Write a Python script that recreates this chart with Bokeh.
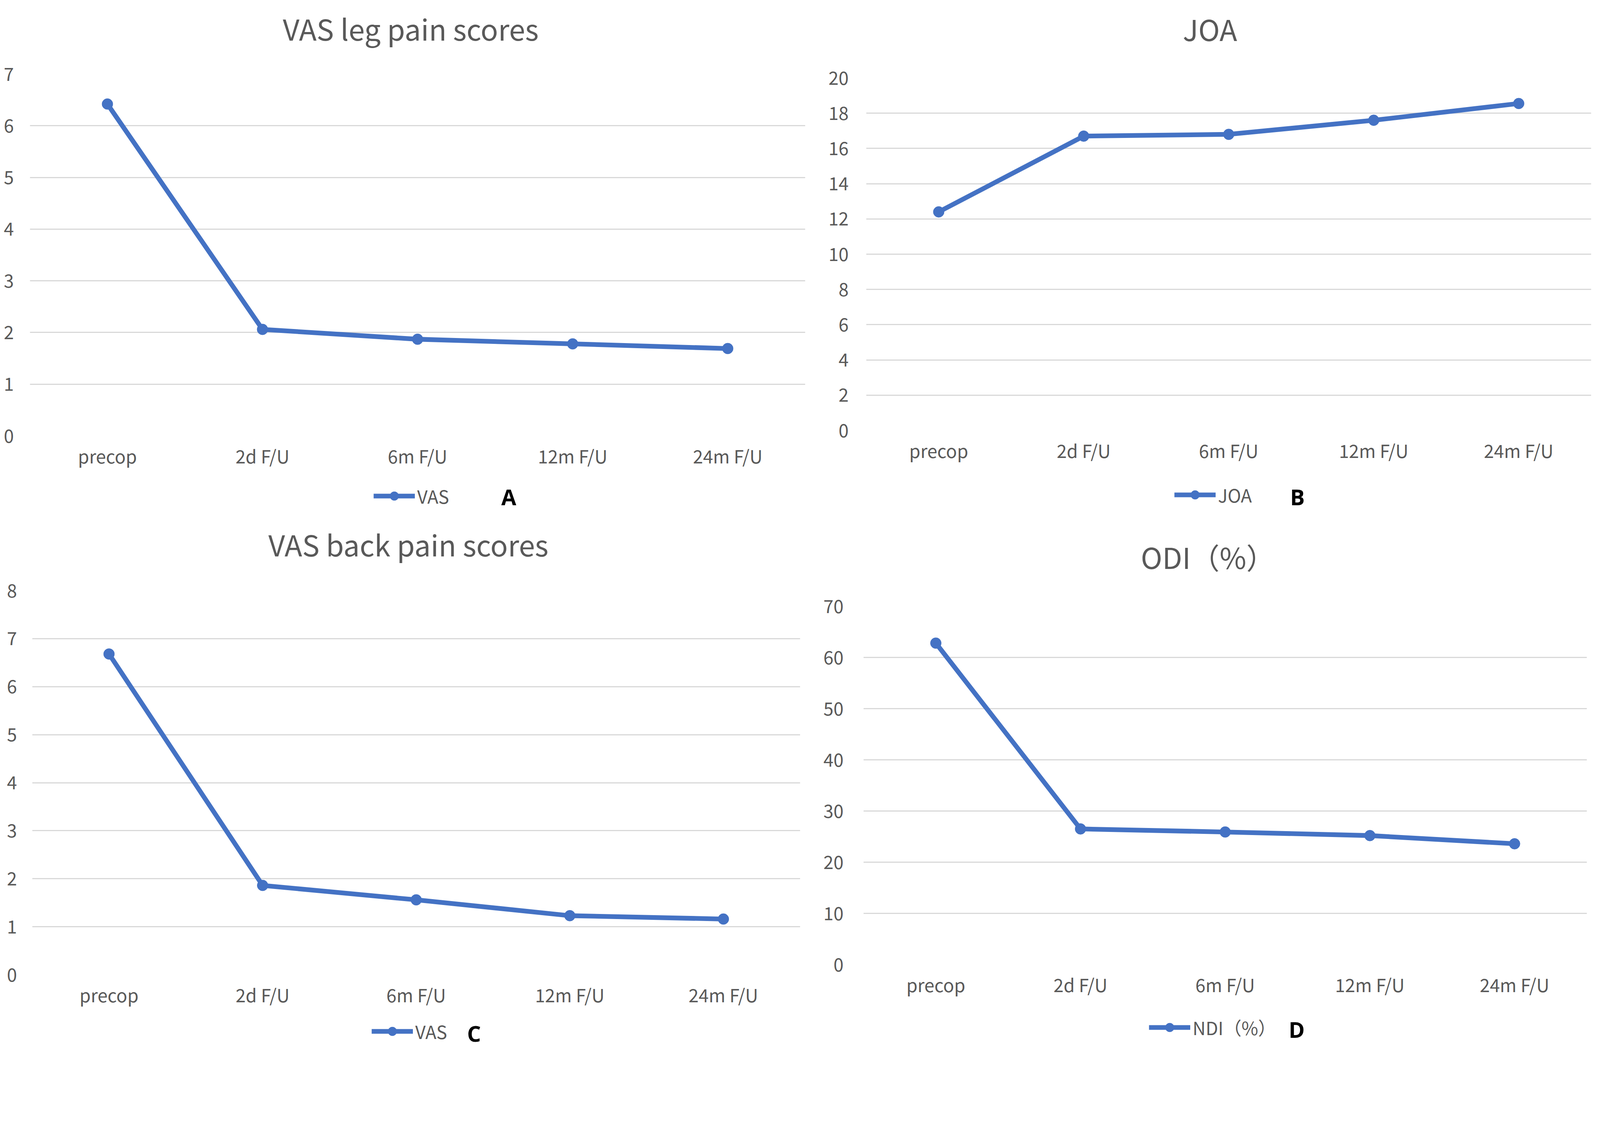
from bokeh.plotting import figure
from bokeh.models import FixedTicker, Legend, LegendItem, Label, Range1d
from bokeh.layouts import row, column
from bokeh.embed import file_html
from bokeh.resources import INLINE

categories = ["precop", "2d F/U", "6m F/U", "12m F/U", "24m F/U"]

vas_leg = [6.42, 2.06, 1.87, 1.78, 1.69]
joa = [12.4, 16.7, 16.8, 17.6, 18.55]
vas_back = [6.68, 1.86, 1.56, 1.23, 1.16]
odi = [62.8, 26.5, 25.9, 25.2, 23.6]

titles = ["VAS leg pain scores", "JOA", "VAS back pain scores", "ODI（%）"]
legend_labels = ["VAS", "JOA", "VAS", "NDI（%）"]
letters = ["A", "B", "C", "D"]
y_ticks_a = [0, 1, 2, 3, 4, 5, 6, 7]
y_ticks_b = [0, 2, 4, 6, 8, 10, 12, 14, 16, 18, 20]
y_ticks_c = [0, 1, 2, 3, 4, 5, 6, 7, 8]
y_ticks_d = [0, 10, 20, 30, 40, 50, 60, 70]

FONT = "Noto Sans CJK SC"
GRAY = "#595959"
GRID = "#d9d9d9"
BLUE = "#4472C4"

S = 1 / 1.08  # screen pixels -> CSS pixels


def z(v):
    return int(round(v * S))


def fs(v):
    return "%.1fpx" % (v * S)


TB = 50    # space above the plot frame inside the main figure
BB = 90    # space below the plot frame inside the main figure


def strip(W, H, left, right, x_range=None, y_range=None):
    p = figure(width=z(W), height=z(H), output_backend="svg", toolbar_location=None,
               x_axis_type=None, y_axis_type=None,
               min_border_left=z(left), min_border_right=z(right),
               min_border_top=0, min_border_bottom=0,
               x_range=x_range if x_range is not None else Range1d(0, 1),
               y_range=y_range if y_range is not None else Range1d(0, 1))
    p.outline_line_color = None
    p.grid.visible = False
    p.background_fill_color = "white"
    p.border_fill_color = "white"
    return p


def panel(values, title, leg, letter, ticks, W, H, left, right, frame_top, frame_h,
          standoff, title_x, title_c, leg_c, leg_x, letter_x, letter_c):
    title_h = frame_top - TB
    main_h = TB + frame_h + BB
    leg_h = H - title_h - main_h

    # title strip
    pt = strip(W, title_h, left, right)
    pt.add_layout(Label(x=z(title_x), y=z(title_h - title_c),
                        x_units="screen", y_units="screen", text=title,
                        text_align="center", text_baseline="middle",
                        text_font=FONT, text_font_size=fs(80), text_color=GRAY))

    # main chart
    p = figure(x_range=categories, width=z(W), height=z(main_h),
               y_range=Range1d(ticks[0], ticks[-1]),
               output_backend="svg", toolbar_location=None,
               min_border_left=z(left), min_border_right=z(right),
               min_border_top=z(TB), min_border_bottom=z(BB))
    p.outline_line_color = None
    p.background_fill_color = "white"
    p.border_fill_color = "white"
    p.x_range.range_padding = 0

    p.yaxis.ticker = FixedTicker(ticks=ticks)
    p.yaxis.axis_line_color = None
    p.yaxis.major_tick_line_color = None
    p.yaxis.minor_tick_line_color = None
    p.yaxis.major_label_standoff = z(standoff)
    p.yaxis.major_label_text_font = FONT
    p.yaxis.major_label_text_font_size = fs(50)
    p.yaxis.major_label_text_color = GRAY

    p.xaxis.axis_line_color = None
    p.xaxis.major_tick_line_color = None
    p.xaxis.minor_tick_line_color = None
    p.xaxis.major_label_standoff = z(11)
    p.xaxis.major_label_text_font = FONT
    p.xaxis.major_label_text_font_size = fs(50)
    p.xaxis.major_label_text_color = GRAY

    p.xgrid.grid_line_color = None
    p.ygrid.grid_line_color = GRID
    p.ygrid.grid_line_width = 3 * S

    p.line(categories, values, line_color=BLUE, line_width=13 * S)
    p.scatter(categories, values, size=30 * S, fill_color=BLUE, line_color=BLUE)

    # legend strip (legend keys drawn from the same series, outside its visible range)
    pl = strip(W, leg_h, left, right, x_range=categories, y_range=Range1d(1000, 1001))
    r1 = pl.line(categories, values, line_color=BLUE, line_width=13 * S)
    r2 = pl.scatter(categories, values, size=30 * S, fill_color=BLUE, line_color=BLUE)
    legend = Legend(items=[LegendItem(label=leg, renderers=[r1, r2])],
                    location=(z(leg_x), z(leg_h - leg_c - 30)),
                    orientation="horizontal",
                    padding=0, margin=0, border_line_color=None,
                    background_fill_alpha=0, glyph_width=z(114), glyph_height=z(60),
                    label_height=z(60), label_standoff=z(6),
                    label_text_font=FONT, label_text_font_size=fs(50),
                    label_text_color=GRAY)
    pl.add_layout(legend, "center")
    pl.add_layout(Label(x=z(letter_x), y=z(leg_h - letter_c), x_units="screen",
                        y_units="screen", text=letter, text_align="center",
                        text_baseline="middle", text_font="Open Sans",
                        text_font_style="bold", text_font_size=fs(60),
                        text_color="black"))
    return column(pt, p, pl, spacing=0)


# strip positions: legend / letter centres measured from the top of the legend strip,
# x positions measured from the plot frame's left edge
pa = panel(vas_leg, titles[0], legend_labels[0], letters[0], y_ticks_a,
           2272, 1432, 82, 46, 204, 1003, 38, 1053, 76, 79, 950, 1324, 76)
pb = panel(joa, titles[1], legend_labels[1], letters[1], y_ticks_b,
           2160, 1432, 122, 33, 215, 977, 42, 950, 78, 91, 852, 1192, 91)
pc = panel(vas_back, titles[2], legend_labels[2], letters[2], y_ticks_c,
           2272, 1470, 89, 60, 200, 1064, 36, 1040, 70, 70, 939, 1222, 70)
pd = panel(odi, titles[3], legend_labels[3], letters[3], y_ticks_d,
           2160, 1470, 115, 45, 243, 993, 49, 953, 104, 87, 789, 1198, 87)

layout = column(row(pa, pb, spacing=0), row(pc, pd, spacing=0), spacing=0)

with open("out.html", "w") as f:
    f.write(file_html(layout, INLINE))
